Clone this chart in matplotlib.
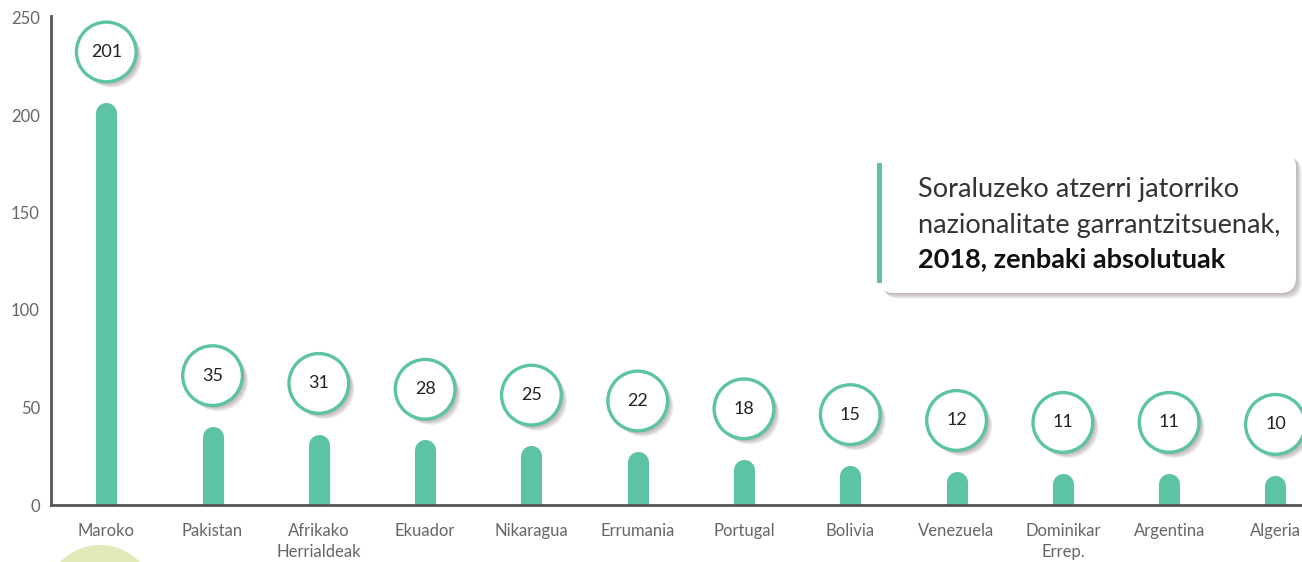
import matplotlib.pyplot as plt
import matplotlib.patheffects as pe
import matplotlib.transforms as mtransforms
from matplotlib.patches import FancyBboxPatch, Ellipse, Rectangle

countries = ['Maroko', 'Pakistan', 'Afrikako\nHerrialdeak', 'Ekuador', 'Nikaragua',
             'Errumania', 'Portugal', 'Bolivia', 'Venezuela', 'Dominikar\nErrep.',
             'Argentina', 'Algeria']
values = [201, 35, 31, 28, 25, 22, 18, 15, 12, 11, 11, 10]
yticks = [0, 50, 100, 150, 200, 250]

green = '#5cc3a5'
grey = '#666666'
font = 'Lato'

fig = plt.figure(figsize=(13.02, 5.62), dpi=100)
ax = fig.add_axes([51 / 1302, 57 / 562, 1 - 51 / 1302, 487.5 / 562])

x = list(range(len(values)))

# bars drawn as thick lines with rounded caps
ax.vlines(x, 0, values, colors=green, linewidth=15.2, capstyle='round', zorder=2)

# soft-ish shadow built from a few stacked offsets
def soft_shadow(col, alpha):
    effs = [pe.SimplePatchShadow(offset=(d, -d), shadow_rgbFace=col, alpha=alpha)
            for d in (1, 2, 3, 4)]
    return effs + [pe.Normal()]

# value bubbles
lift = mtransforms.ScaledTranslation(0, 44 / 72, fig.dpi_scale_trans)
for xi, v in zip(x, values):
    ax.annotate(str(v), xy=(xi, v), xytext=(0, 44), textcoords='offset points',
                ha='center', va='center', fontsize=13, family=font, color='#222222',
                annotation_clip=False, zorder=4)
    ax.plot([xi], [v], marker='o', markersize=43, markerfacecolor='white',
            markeredgecolor=green, markeredgewidth=2.4, clip_on=False, zorder=3,
            transform=ax.transData + lift,
            path_effects=soft_shadow('#6e5858', 0.14))

ax.set_xlim(-0.52, 11.25)
ax.set_ylim(0, 250)
ax.set_yticks(yticks)
ax.set_xticks(x)
ax.set_xticklabels(countries, fontsize=12, color=grey, family=font, linespacing=1.4)
for lab in ax.get_yticklabels():
    lab.set_fontsize(12)
    lab.set_color(grey)
    lab.set_family(font)
ax.tick_params(length=0)
ax.tick_params(axis='x', pad=13)
ax.tick_params(axis='y', pad=8)
for s in ['top', 'right']:
    ax.spines[s].set_visible(False)
for s in ['left', 'bottom']:
    ax.spines[s].set_color('#555555')
    ax.spines[s].set_linewidth(2)
ax.spines['left'].set_bounds(0, 251)

# decorative blob bottom-left
fig.patches.append(Ellipse((100 / 1302, -38 / 562), 110 / 1302, 110 / 562,
                           transform=fig.transFigure, facecolor='#e3e9b8',
                           edgecolor='none', zorder=0))

# title box
bx, by, bw, bh = 878 / 1302, (562 - 293) / 562, 418 / 1302, 141 / 562
box = FancyBboxPatch((bx, by), bw, bh, boxstyle='round,pad=0,rounding_size=0.012',
                     transform=fig.transFigure, facecolor='white', edgecolor='none',
                     zorder=5, mutation_aspect=1302 / 562,
                     path_effects=soft_shadow('#6b5a5a', 0.12))
fig.patches.append(box)
fig.patches.append(Rectangle((877 / 1302, (562 - 283) / 562), 5 / 1302, 120 / 562,
                             transform=fig.transFigure, facecolor=green, edgecolor='none',
                             zorder=6))
fig.text(918 / 1302, (562 - 189) / 562, 'Soraluzeko atzerri jatorriko', fontsize=19.5,
         family=font, color='#333333', va='center', zorder=7)
fig.text(918 / 1302, (562 - 225) / 562, 'nazionalitate garrantzitsuenak,', fontsize=19.5,
         family=font, color='#333333', va='center', zorder=7)
fig.text(918 / 1302, (562 - 259) / 562, '2018, zenbaki absolutuak', fontsize=19.5,
         family=font, color='#111111', weight='bold', va='center', zorder=7)

fig.savefig('out.png', dpi=100)
